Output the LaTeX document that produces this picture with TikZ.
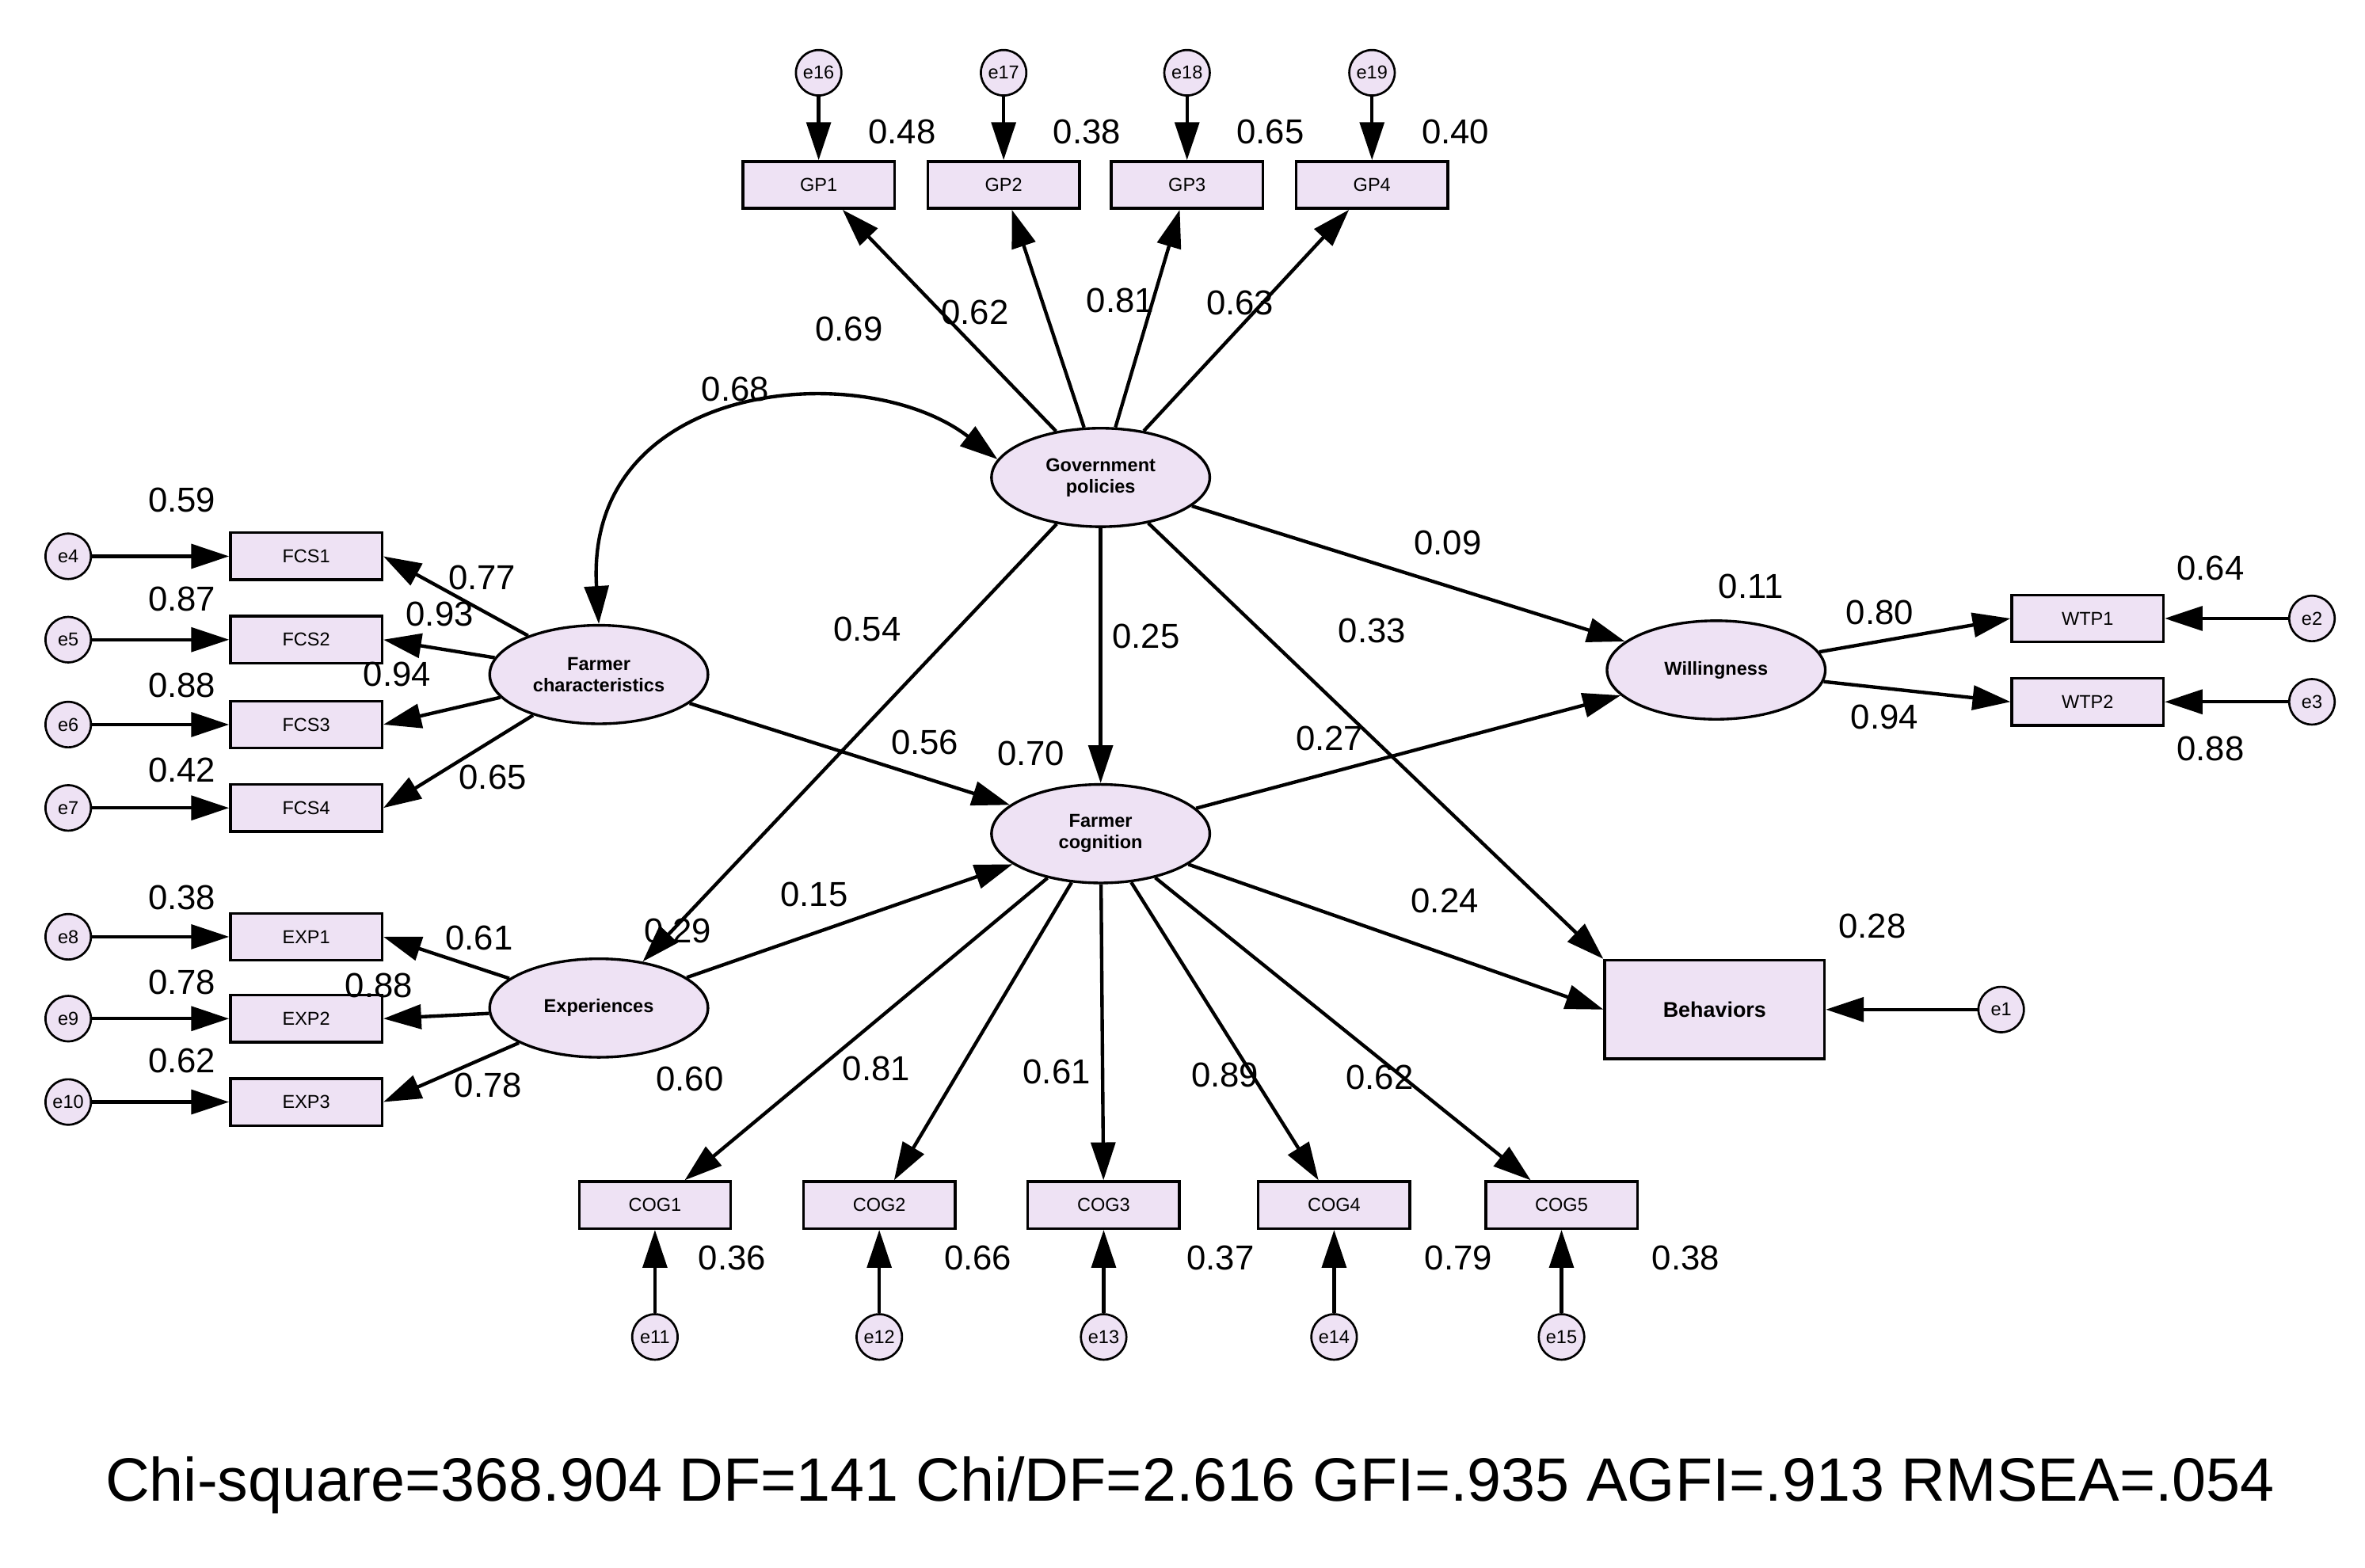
\documentclass[tikz,border=0pt]{standalone}
\usepackage{fontspec}
\setmainfont{Liberation Sans}
\usetikzlibrary{arrows.meta,shapes.geometric}
\definecolor{lav}{RGB}{238,226,244}
\begin{document}
\begin{tikzpicture}[x=0.02cm,y=-0.02cm,
 lat/.style={ellipse,draw,line width=1pt,fill=lav,minimum width=2.88cm,minimum height=1.3cm,inner sep=0pt,font=\bfseries\fontsize{7}{8}\selectfont,align=center},
 box/.style={rectangle,draw,line width=1pt,fill=lav,minimum width=2cm,minimum height=0.62cm,inner sep=0pt,font=\fontsize{7}{8}\selectfont},
 err/.style={circle,draw,line width=0.8pt,fill=lav,minimum size=0.6cm,inner sep=0pt,font=\fontsize{7}{8}\selectfont},
 lab/.style={font=\fontsize{13}{15}\selectfont},
 arr/.style={line width=1.3pt,-{Triangle[length=0.5cm,width=0.32cm]}}]
\useasboundingbox (0,0) rectangle (1560,1034);
% latent
\node[lat] (gov) at (726,315) {Government\\policies};
\node[lat] (fc) at (395,445) {Farmer\\characteristics};
\node[lat] (exp) at (395,665) {Experiences};
\node[lat] (cog) at (726,550) {Farmer\\cognition};
\node[lat] (will) at (1132,442) {Willingness};
\node[box,minimum width=2.9cm,minimum height=1.3cm,font=\bfseries\fontsize{8}{9}\selectfont] (beh) at (1131,666) {Behaviors};
% GP
\foreach \n/\x/\r/\l/\lx/\ly in {1/540/0.48/0.69/560/217,2/662/0.38/0.62/643/206,3/783/0.65/0.81/739/198,4/905/0.40/0.63/818/200}{
 \node[box] (gp\n) at (\x,122) {GP\n};
 \pgfmathtruncatemacro{\e}{15+\n}
 \node[err] (eg\n) at (\x,48) {e\e};
 \draw[arr] (eg\n) -- (gp\n);
 \draw[arr] (gov) -- (gp\n);
 \node[lab] at (\x+55,87) {\r};
 \node[lab] at (\lx,\ly) {\l};
}
% FCS
\foreach \n/\y/\r/\ry/\e in {1/367/0.59/330/4,2/422/0.87/395/5,3/478/0.88/452/6,4/533/0.42/508/7}{
 \node[box] (fcs\n) at (202,\y) {FCS\n};
 \node[err] (ef\n) at (45,\y) {e\e};
 \draw[arr] (ef\n) -- (fcs\n);
 \draw[arr] (fc) -- (fcs\n.east);
 \node[lab] at (120,\ry) {\r};
}
\node[lab] at (318,381) {0.77};
\node[lab] at (290,405) {0.93};
\node[lab] at (262,445) {0.94};
\node[lab] at (325,513) {0.65};
% EXP
\foreach \n/\y/\r/\ry/\e in {1/618/0.38/592/8,2/672/0.78/648/9,3/727/0.62/700/10}{
 \node[box] (ex\n) at (202,\y) {EXP\n};
 \node[err] (ee\n) at (45,\y) {e\e};
 \draw[arr] (ee\n) -- (ex\n);
 \draw[arr] (exp) -- (ex\n.east);
 \node[lab] at (120,\ry) {\r};
}
\node[lab] at (316,619) {0.61};
\node[lab] at (250,650) {0.88};
\node[lab] at (322,716) {0.78};
% COG
\foreach \n/\x/\r/\rx in {1/432/0.36/483,2/580/0.66/645,3/728/0.37/805,4/880/0.79/962,5/1030/0.38/1112}{
 \node[box] (cg\n) at (\x,795) {COG\n};
 \pgfmathtruncatemacro{\e}{10+\n}
 \node[err] (ec\n) at (\x,882) {e\e};
 \draw[arr] (ec\n) -- (cg\n);
 \draw[arr] (cog) -- (cg\n);
 \node[lab] at (\rx,830) {\r};
}
\node[lab] at (455,712) {0.60};
\node[lab] at (578,705) {0.81};
\node[lab] at (697,707) {0.61};
\node[lab] at (808,709) {0.89};
\node[lab] at (910,711) {0.62};
% WTP
\node[box] (w1) at (1377,408) {WTP1};
\node[box] (w2) at (1377,463) {WTP2};
\node[err] (e2) at (1525,408) {e2};
\node[err] (e3) at (1525,463) {e3};
\node[err] (e1) at (1320,666) {e1};
\draw[arr] (e2) -- (w1);
\draw[arr] (e3) -- (w2);
\draw[arr] (will) -- (w1.west);
\draw[arr] (will) -- (w2.west);
\draw[arr] (e1) -- (beh);
\node[lab] at (1458,375) {0.64};
\node[lab] at (1458,494) {0.88};
\node[lab] at (1240,404) {0.80};
\node[lab] at (1243,473) {0.94};
% structural
\draw[arr] (gov) -- (exp);
\draw[arr] (gov) -- (cog);
\draw[arr] (gov) -- (beh.north west);
\draw[arr] (gov) -- (will);
\draw[arr] (fc) -- (cog);
\draw[arr] (exp) -- (cog);
\draw[arr] (cog) -- (will);
\draw[arr] (cog) -- (beh.west);
\draw[line width=1.3pt,{Triangle[length=0.5cm,width=0.32cm]}-{Triangle[length=0.5cm,width=0.32cm]}] (fc.north) .. controls (385,250) and (570,235) .. (gov.170);
\node[lab] at (485,257) {0.68};
\node[lab] at (572,415) {0.54};
\node[lab] at (756,420) {0.25};
\node[lab] at (905,416) {0.33};
\node[lab] at (955,358) {0.09};
\node[lab] at (610,490) {0.56};
\node[lab] at (537,590) {0.15};
\node[lab] at (877,487) {0.27};
\node[lab] at (953,594) {0.24};
\node[lab] at (680,497) {0.70};
\node[lab] at (1155,387) {0.11};
\node[lab] at (447,614) {0.29};
\node[lab] at (1235,611) {0.28};
\node[font=\fontsize{23}{27}\selectfont] at (785,980) {Chi-square=368.904 DF=141 Chi/DF=2.616 GFI=.935 AGFI=.913 RMSEA=.054};
\end{tikzpicture}
\end{document}
